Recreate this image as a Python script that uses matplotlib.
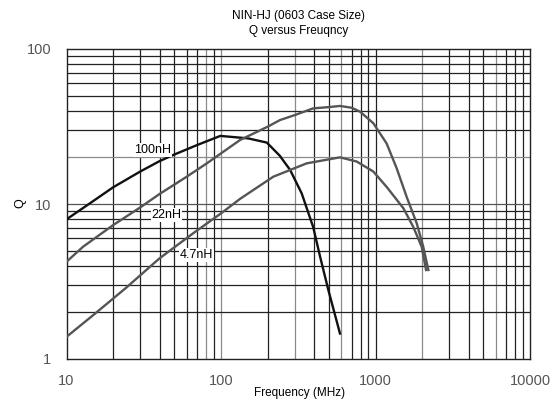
import matplotlib
matplotlib.use("Agg")
import matplotlib.pyplot as plt
import numpy as np

# Q vs frequency
freq_100nh = [10, 15, 20, 30, 40, 49, 70, 99, 150, 198, 240, 280, 333, 395, 438, 495, 589]
q_100nh = [7.96, 10.5, 12.8, 16.2, 18.9, 20.7, 24.0, 27.5, 26.5, 24.9, 20.5, 16.6,
           11.7, 7.1, 4.57, 2.79, 1.46]

freq_22nh = [10, 12.8, 20, 30, 40, 60, 81, 133, 200, 241, 301, 395, 500, 589, 700,
             795, 968, 1180, 1371, 1592, 1849, 2037, 2199]
q_22nh = [4.24, 5.3, 7.3, 9.5, 11.6, 15.0, 18.3, 25.9, 31.5, 34.8, 37.5, 41.4, 42.2,
          42.9, 41.8, 39.4, 33.2, 24.6, 17.0, 11.1, 7.5, 5.3, 3.75]

freq_4n7 = [10, 14.9, 24.5, 40, 66, 100, 133, 218, 359, 589, 755, 968, 1180, 1514,
            1758, 1990, 2124]
q_4n7 = [1.39, 1.92, 2.9, 4.46, 6.47, 8.7, 10.8, 15.0, 18.3, 20.0, 18.8, 16.2, 12.9,
         9.4, 7.1, 5.3, 3.75]

x_ticks = [10, 100, 1000, 10000]
y_ticks = [1, 10, 100]

FONT = "Liberation Sans"

fig = plt.figure(figsize=(5.56, 4.07), dpi=100)
ax = fig.add_axes([66.5 / 556, 1 - 359 / 407, 463.5 / 556, 310 / 407])
ax.set_xscale("log")
ax.set_yscale("log")
ax.set_xlim(10, 10000)
ax.set_ylim(1, 100)

# grid, a few lines are lighter in the scan
light_x = [80, 100, 300, 600, 2000, 6000]
for dec in [10, 100, 1000]:
    for m in range(1, 10):
        v = dec * m
        if v <= 10:
            continue
        col = "#8a8a8a" if v in light_x else "#222222"
        ax.axvline(v, color=col, linewidth=0.9, zorder=1)
for dec in [1, 10]:
    for m in range(2, 10):
        v = dec * m
        col = "#8a8a8a" if v == 20 else "#222222"
        ax.axhline(v, color=col, linewidth=0.9, zorder=1)
ax.axhline(10, color="#555555", linewidth=0.9, zorder=1)

ax.plot(freq_100nh, q_100nh, color="#111111", linewidth=1.7, zorder=3)
ax.plot(freq_22nh, q_22nh, color="#555555", linewidth=1.7, zorder=3)
ax.plot(freq_4n7, q_4n7, color="#555555", linewidth=1.7, zorder=3)

lab = dict(fontsize=9, family=FONT, ha="center", va="center", zorder=4,
           bbox=dict(facecolor="white", edgecolor="none", pad=0.5))
ax.text(36, 22.3, "100nH", **lab)
ax.text(44.5, 8.5, "22nH", **lab)
ax.text(69, 4.7, "4.7nH", **lab)

ax.set_xticks(x_ticks)
ax.set_xticklabels([str(t) for t in x_ticks])
ax.set_yticks(y_ticks)
ax.set_yticklabels([str(t) for t in y_ticks])
ax.minorticks_off()
ax.tick_params(length=0, labelsize=10.5, labelcolor="#555555")
ax.tick_params(axis="x", pad=11)
ax.tick_params(axis="y", pad=11)
for t in ax.get_xticklabels() + ax.get_yticklabels():
    t.set_family(FONT)

for s in ax.spines.values():
    s.set_color("#222222")
    s.set_linewidth(1.0)

fig.text(300 / 556, 1 - 393 / 407, "Frequency (MHz)", fontsize=8.5,
         family=FONT, ha="center", va="center")
fig.text(20 / 556, 1 - 203 / 407, "Q", fontsize=9, family=FONT,
         ha="center", va="center", rotation=90)
fig.text(0.537, 1 - 16 / 407, "NIN-HJ (0603 Case Size)", fontsize=8.5,
         family=FONT, ha="center", va="center")
fig.text(0.537, 1 - 31 / 407, "Q versus Freuqncy", fontsize=8.5,
         family=FONT, ha="center", va="center")

fig.savefig("out.png", dpi=100)
